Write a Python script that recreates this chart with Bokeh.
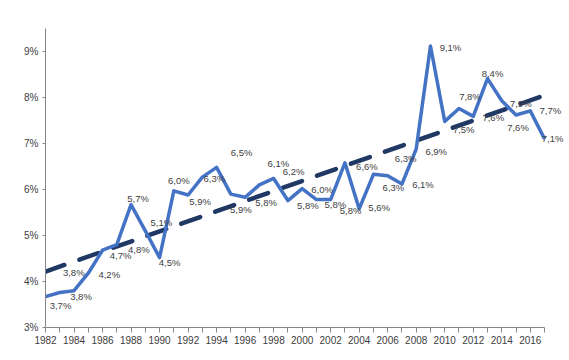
import numpy as np
from bokeh.plotting import figure
from bokeh.models import Range1d, FixedTicker, ColumnDataSource
from bokeh.core.properties import value
from bokeh.embed import file_html
from bokeh.resources import INLINE

years = list(range(1982, 2018))
rates = [3.67, 3.76, 3.80, 4.18, 4.68, 4.80, 5.67, 5.10, 4.52, 5.97,
         5.88, 6.27, 6.48, 5.90, 5.83, 6.10, 6.24, 5.76, 6.02, 5.78,
         5.78, 6.58, 5.58, 6.33, 6.30, 6.12, 6.88, 9.12, 7.48, 7.76,
         7.59, 8.41, 7.93, 7.62, 7.71, 7.10]
# label placement offsets (screen px) relative to each point
label_dx = [15, 14, 7, 21, 18, 22, 7, 16, 10, 5,
            12, 12, 25, 10, 21, 19, 20, 20, 20, 19,
            20, 22, 20, 20, 18, 21, 20, 20, 19, 11,
            20, 5, 19, 2, 20, 8]
label_dy = [9, -20, 6, 1, 5, 5, -6, -8, 5, -10,
            6, 1, -15, 15, 5, -21, -7, 5, 1, 5,
            11, 4, -1, 13, -17, 1, 2, 2, 8, -12,
            1, -5, 3, 13, 0, 0]
labels = [f"{v:.1f}".replace(".", ",") + "%" for v in rates]

coef = np.polyfit(years, rates, 1)
trend_x = [years[0], years[-1]]
trend_y = [float(np.polyval(coef, x)) for x in trend_x]

p = figure(width=565, height=352, output_backend="svg", toolbar_location=None,
           x_range=Range1d(1982, 2018.47), y_range=Range1d(3, 9.5),
           min_border_left=45, min_border_top=28, min_border_bottom=25,
           min_border_right=0)
p.outline_line_color = None
p.grid.grid_line_color = None
p.background_fill_color = "white"
p.border_fill_color = "white"

p.line(trend_x, trend_y, line_color="#1F3864", line_width=4.5,
       line_dash="20 16", line_cap="round")
p.line(years, rates, line_color="#4472C4", line_width=3.5, line_join="round")

src = ColumnDataSource(dict(x=years, y=rates, t=labels, dx=label_dx, dy=label_dy))
p.text(x="x", y="y", text="t", x_offset="dx", y_offset="dy", source=src,
       text_font=value("Liberation Sans"), text_font_size="9.5px",
       text_color="#404040", text_align="center", text_baseline="middle")

for ax in (p.xaxis[0], p.yaxis[0]):
    ax.axis_line_color = "#868686"
    ax.major_tick_line_color = "#868686"
    ax.minor_tick_line_color = None
    ax.major_tick_in = 0
    ax.major_label_text_font = "Liberation Sans"
    ax.major_label_text_font_size = "10px"
    ax.major_label_text_color = "#404040"

p.xaxis.ticker = FixedTicker(ticks=years)
p.xaxis.bounds = (1982, 2017)
p.xaxis.major_tick_out = 5
p.xaxis.major_label_standoff = 3
p.xaxis.major_label_overrides = {y: (str(y) if y % 2 == 0 else "") for y in years}

p.yaxis.ticker = FixedTicker(ticks=[3, 4, 5, 6, 7, 8, 9])
p.yaxis.bounds = (3, 9.5)
p.yaxis.major_tick_out = 3
p.yaxis.major_label_standoff = 4
p.yaxis.major_label_overrides = {t: f"{t}%" for t in [3, 4, 5, 6, 7, 8, 9]}

open("out.html", "w").write(file_html(p, INLINE))
